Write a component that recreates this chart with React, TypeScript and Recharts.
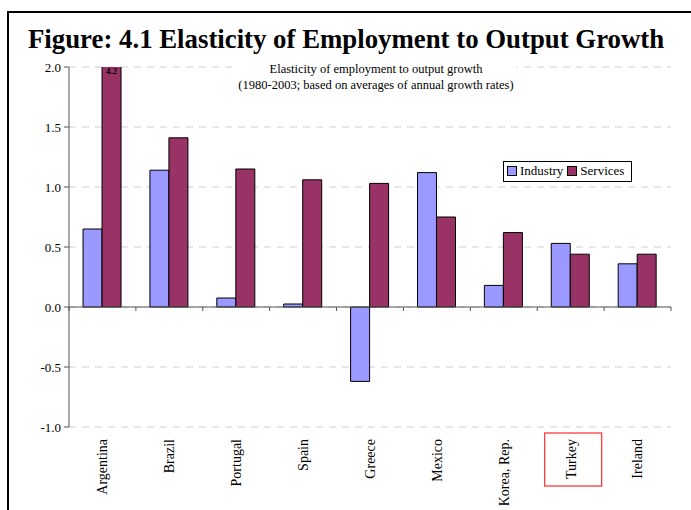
import React from 'react';
import { BarChart, Bar, XAxis, YAxis, CartesianGrid, ReferenceLine, Legend, LabelList } from 'recharts';

const categories = ['Argentina', 'Brazil', 'Portugal', 'Spain', 'Greece', 'Mexico', 'Korea, Rep.', 'Turkey', 'Ireland'];
const industry = [0.65, 1.14, 0.075, 0.025, -0.62, 1.12, 0.18, 0.53, 0.36];
const services = [4.2, 1.41, 1.15, 1.06, 1.03, 0.75, 0.62, 0.44, 0.44];
const yTicks = [-1, -0.5, 0, 0.5, 1, 1.5, 2];
const highlighted = 'Turkey';

const Y_MIN = -1;
const Y_MAX = 2;
const CHART_W = 691;
const CHART_H = 510;
const MARGIN = { top: 67, right: 20, left: 0, bottom: 0 };

const INDUSTRY_COLOR = '#9999ff';
const SERVICES_COLOR = '#993366';
const FONT = '"Liberation Serif", "Times New Roman", serif';

const data = categories.map((name, i) => ({ name, industry: industry[i], services: services[i] }));

function CountryTick(props: any) {
  const { x, y, payload } = props;
  return (
    <g transform={`translate(${x},${y})`}>
      {payload.value === highlighted && (
        <rect x={-26} y={-2} width={57} height={53} fill="none" stroke="#ff3b3b" strokeWidth={1.3} />
      )}
      <text
        transform="rotate(-90)"
        x={-4}
        y={0}
        dy="0.35em"
        textAnchor="end"
        fill="#000"
        fontSize={14}
        fontFamily={FONT}
      >
        {payload.value}
      </text>
    </g>
  );
}

// zero line drawn like an Excel category axis: boundary ticks between categories
function ZeroAxis(props: any) {
  const { x1, y1, x2 } = props;
  const step = (x2 - x1) / categories.length;
  const marks = [];
  for (let i = 0; i <= categories.length; i++) {
    const tx = x1 + i * step;
    marks.push(<line key={i} x1={tx} y1={y1} x2={tx} y2={y1 + 4} stroke="#555" strokeWidth={1} />);
  }
  return (
    <g>
      <line x1={x1} y1={y1} x2={x2} y2={y1} stroke="#555" strokeWidth={1} />
      {marks}
    </g>
  );
}

// value label for a bar cut off at the top of the axis
function OverflowLabel(props: any) {
  const { x, width, value } = props;
  if (value <= Y_MAX) return null;
  return (
    <text
      x={x + width / 2}
      y={MARGIN.top + 7}
      textAnchor="middle"
      fontSize={9}
      fontWeight="bold"
      fontFamily={FONT}
      fill="#000"
    >
      {value.toFixed(1)}
    </text>
  );
}

function LegendBox() {
  const item = (color: string, label: string) => (
    <span style={{ display: 'inline-flex', alignItems: 'center', marginRight: 4 }}>
      <span style={{ width: 8, height: 8, background: color, border: '1px solid #000', marginRight: 3 }} />
      {label}
    </span>
  );
  return (
    <div
      style={{
        border: '1px solid #000',
        padding: '1px 3px',
        fontFamily: FONT,
        fontSize: 13,
        background: '#fff',
        whiteSpace: 'nowrap',
        lineHeight: '16px',
      }}
    >
      {item(INDUSTRY_COLOR, 'Industry')}
      {item(SERVICES_COLOR, 'Services')}
    </div>
  );
}

export default function App() {
  return (
    <div style={{ position: 'absolute', left: 0, top: 0, width: CHART_W, height: CHART_H, background: '#fff', fontFamily: FONT }}>
      <div
        style={{
          position: 'absolute',
          left: 7,
          top: 11,
          right: 0,
          bottom: 0,
          borderTop: '2px solid #000',
          borderLeft: '2px solid #000',
        }}
      />
      <BarChart
        width={CHART_W}
        height={CHART_H}
        data={data}
        margin={MARGIN}
        barCategoryGap="21%"
        barGap={0}
      >
        <CartesianGrid vertical={false} stroke="#cfcfcf" strokeDasharray="7 6" />
        <XAxis
          dataKey="name"
          axisLine={false}
          tickLine={false}
          tickSize={6}
          tickMargin={2}
          height={83}
          interval={0}
          tick={<CountryTick />}
        />
        <YAxis
          type="number"
          domain={[Y_MIN, Y_MAX]}
          ticks={yTicks}
          allowDataOverflow
          width={69}
          tickFormatter={(v: number) => v.toFixed(1)}
          tick={{ fontSize: 13, fill: '#000', fontFamily: FONT }}
          stroke="#555"
          tickSize={5}
          tickMargin={3}
        />
        <Legend
          layout="vertical"
          align="center"
          verticalAlign="middle"
          wrapperStyle={{ left: 503, top: 161, width: 'auto' }}
          content={<LegendBox />}
        />
        <Bar dataKey="industry" name="Industry" fill={INDUSTRY_COLOR} stroke="#000" strokeWidth={1} isAnimationActive={false} />
        <Bar dataKey="services" name="Services" fill={SERVICES_COLOR} stroke="#000" strokeWidth={1} isAnimationActive={false}>
          <LabelList dataKey="services" content={<OverflowLabel />} />
        </Bar>
        <ReferenceLine y={0} shape={<ZeroAxis />} />
      </BarChart>
      <div
        style={{
          position: 'absolute',
          left: 28,
          top: 24,
          fontSize: 26.8,
          fontWeight: 'bold',
          lineHeight: '30px',
          whiteSpace: 'nowrap',
        }}
      >
        Figure: 4.1 Elasticity of Employment to Output Growth
      </div>
      <div
        style={{
          position: 'absolute',
          left: 376,
          top: 61,
          transform: 'translateX(-50%)',
          textAlign: 'center',
          fontSize: 12.5,
          lineHeight: '16px',
          background: '#fff',
          padding: '0 3px',
          whiteSpace: 'nowrap',
        }}
      >
        Elasticity of employment to output growth
        <br />
        (1980-2003; based on averages of annual growth rates)
      </div>
    </div>
  );
}
